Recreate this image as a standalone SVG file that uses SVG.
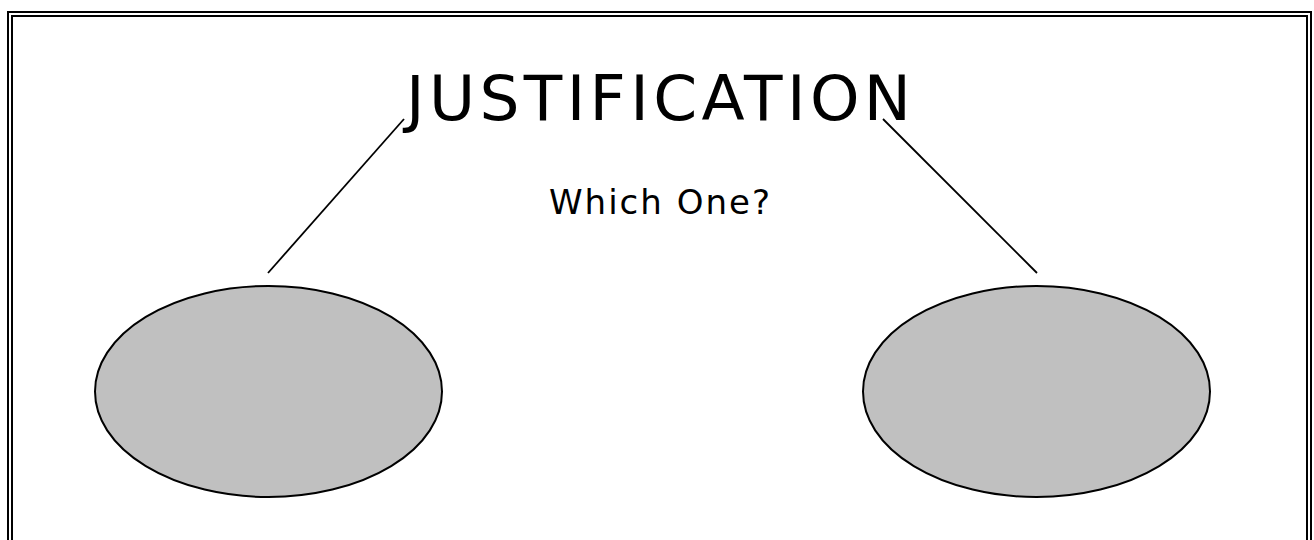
<svg xmlns="http://www.w3.org/2000/svg" width="1314" height="540" viewBox="0 0 1314 540">
  <style>
    .frame { fill: none; stroke: #000; stroke-width: 2; }
    .node { fill: #c0c0c0; stroke: #000; stroke-width: 2; }
    .conn { stroke: #000; stroke-width: 1.8; fill: none; }
    .txt { font-family: "DejaVu Sans", Verdana, sans-serif; fill: #000; }
  </style>
  <rect width="1314" height="540" fill="#fff"/>
  <g id="frame">
    <path class="frame" d="M8,560 V12 H1311 V560"/>
    <path class="frame" d="M12,560 V16 H1307 V560"/>
  </g>
  <g id="title">
    <text class="txt" x="406" y="120" font-size="63" textLength="505" lengthAdjust="spacing">JUSTIFICATION</text>
  </g>
  <g id="subtitle">
    <text class="txt" x="549" y="214" font-size="34" letter-spacing="2">Which One?</text>
  </g>
  <g id="connectors">
    <line class="conn" x1="404" y1="119" x2="268" y2="273"/>
    <line class="conn" x1="883" y1="119" x2="1037" y2="273"/>
  </g>
  <g id="left-option">
    <ellipse class="node" cx="268.5" cy="391.5" rx="173.5" ry="105.5"/>
  </g>
  <g id="right-option">
    <ellipse class="node" cx="1036.5" cy="391.5" rx="173.5" ry="105.5"/>
  </g>
</svg>
